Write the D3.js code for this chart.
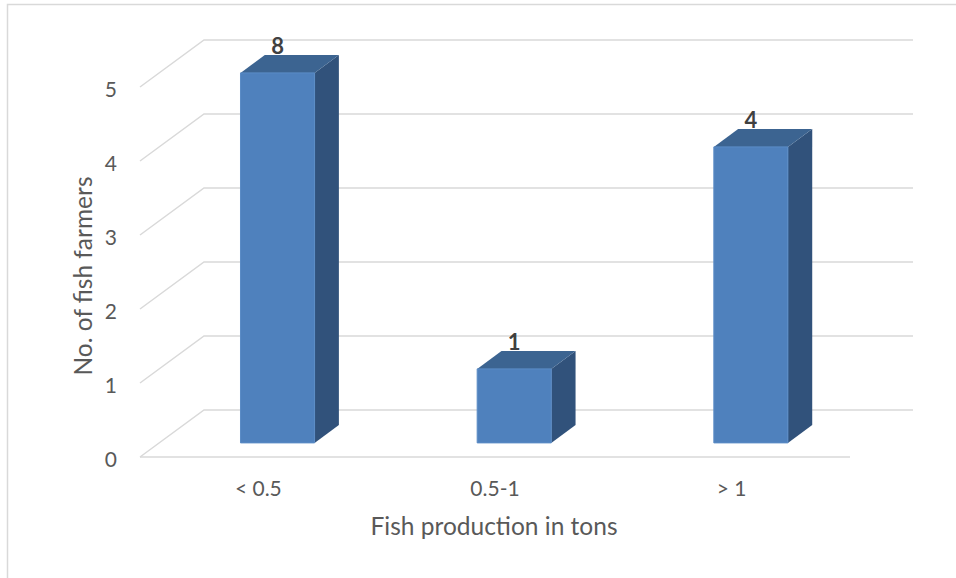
<!DOCTYPE html>
<html>
<head>
<meta charset="utf-8">
<script src="https://cdn.jsdelivr.net/npm/d3@7"></script>
<style>
  html, body { margin: 0; padding: 0; background: #fff; }
  svg { display: block; }
  text { font-family: Lato, "Open Sans", sans-serif; }
</style>
</head>
<body>
<script>
const categories = ["< 0.5", "0.5-1", "> 1"];
const values = [8, 1, 4];
const yTicks = [0, 1, 2, 3, 4, 5];
const xTitle = "Fish production in tons";
const yTitle = "No. of fish farmers";

const W = 956, H = 578;
const svg = d3.select("body").append("svg").attr("width", W).attr("height", H);

// chart border
svg.append("path").attr("d", "M7.5,578 L7.5,4.5 L956,4.5")
  .attr("fill", "none").attr("stroke", "#d9d9d9").attr("stroke-width", 1.5);

const x = d3.scaleBand().domain(categories).range([140, 850]);
const y = d3.scaleLinear().domain([0, 5]).range([457, 87]);
const DX = 64, DY = -47, backRight = 913;
const P = (px, v, z) => [px + DX * z, y(v) + DY * z];

// gridlines (side wall diagonal + back wall horizontal)
const grid = svg.append("g").attr("fill", "none").attr("stroke", "#d9d9d9").attr("stroke-width", 1.5);
yTicks.forEach(t => {
  const a = P(x.range()[0], t, 0), b = P(x.range()[0], t, 1);
  grid.append("path").attr("d", `M${a[0]},${a[1]} L${b[0]},${b[1]} L${backRight},${b[1]}`);
});
// floor front edge
grid.append("line").attr("x1", x.range()[0]).attr("x2", x.range()[1])
  .attr("y1", y(0)).attr("y2", y(0));

// y tick labels
svg.append("g").selectAll("text").data(yTicks).join("text")
  .attr("x", 117).attr("y", d => y(d) + 10)
  .attr("text-anchor", "end").attr("font-size", 21).attr("fill", "#595959")
  .text(d => d);

// x tick labels
svg.append("g").selectAll("text").data(categories).join("text")
  .attr("x", d => x(d) + x.bandwidth() / 2).attr("y", 496)
  .attr("text-anchor", "middle").attr("font-size", 21).attr("fill", "#595959")
  .text(d => d);

// bars
const z0 = 0.3, z1 = 0.68;
const bw = x.bandwidth() * 0.313;
const vmax = y.domain()[1];
const bars = svg.append("g");
categories.forEach((c, i) => {
  const v = Math.min(values[i], vmax);
  const cx = x(c) + x.bandwidth() / 2;
  const xl = cx - bw / 2, xr = cx + bw / 2;
  const fbl = P(xl, 0, z0), ftl = P(xl, v, z0), ftr = P(xr, v, z0), fbr = P(xr, 0, z0);
  const btl = P(xl, v, z1), btr = P(xr, v, z1), bbr = P(xr, 0, z1);
  const poly = pts => "M" + pts.map(p => p.join(",")).join("L") + "Z";
  bars.append("path").attr("d", poly([fbr, ftr, btr, bbr])).attr("fill", "#31527b");
  bars.append("path").attr("d", poly([ftl, btl, btr, ftr])).attr("fill", "#3c6491");
  bars.append("path").attr("d", poly([fbl, ftl, ftr, fbr])).attr("fill", "#4f81bd")
    .attr("stroke", "#5b8cc6").attr("stroke-width", 1);
  bars.append("text")
    .attr("x", (ftl[0] + ftr[0]) / 2).attr("y", btl[1] - 1)
    .attr("text-anchor", "middle").attr("font-size", 22).attr("font-weight", "bold")
    .attr("fill", "#404040").text(values[i]);
});

// axis titles
svg.append("text").attr("x", 494).attr("y", 535)
  .attr("text-anchor", "middle").attr("font-size", 24.5).attr("fill", "#595959").text(xTitle);
svg.append("text").attr("transform", "translate(92,276) rotate(-90)")
  .attr("text-anchor", "middle").attr("font-size", 24.5).attr("fill", "#595959").text(yTitle);
</script>
</body>
</html>
